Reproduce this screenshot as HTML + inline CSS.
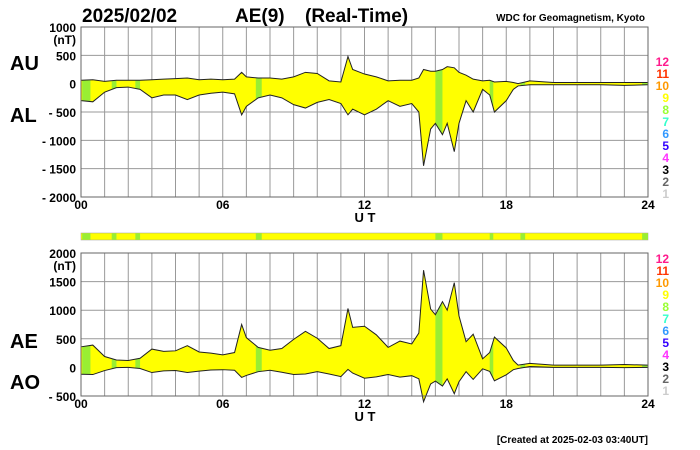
<!DOCTYPE html>
<html><head><meta charset="utf-8">
<style>
body{margin:0;background:#fff;}
svg{display:block;font-family:"Liberation Sans",sans-serif;}
</style></head>
<body>
<svg id="c" width="700" height="450" viewBox="0 0 700 450">
<text x="82" y="22" font-size="19" font-weight="bold">2025/02/02</text>
<text x="235" y="22" font-size="19" font-weight="bold">AE(9)</text>
<text x="305" y="22" font-size="19" font-weight="bold">(Real-Time)</text>
<text x="645" y="21" font-size="10" font-weight="bold" text-anchor="end">WDC for Geomagnetism, Kyoto</text>
<text x="10" y="70" font-size="20" font-weight="bold">AU</text>
<text x="10" y="122" font-size="20" font-weight="bold">AL</text>
<text x="10" y="348" font-size="20" font-weight="bold">AE</text>
<text x="10" y="389" font-size="20" font-weight="bold">AO</text>
<text x="648" y="443" font-size="10" font-weight="bold" text-anchor="end">[Created at 2025-02-03 03:40UT]</text>
<g id="g"></g>
</svg>
<script>
const hours = [0,0.5,1,1.5,2,2.5,3,3.5,4,4.5,5,5.5,6,6.5,6.8,7,7.5,8,8.5,9,9.5,10,10.5,11,11.3,11.5,12,12.5,13,13.5,14,14.3,14.5,14.8,15,15.3,15.5,15.8,16,16.3,16.6,17,17.3,17.5,18,18.3,18.5,19,20,21,22,23,24];
const auValues = [60,70,40,60,60,60,70,80,90,100,70,80,70,80,200,120,100,100,80,120,200,180,50,30,480,250,170,120,50,60,60,100,250,220,220,250,300,280,200,150,80,50,60,30,40,20,0,50,20,20,20,20,20];
const alValues = [-300,-320,-150,-70,-60,-100,-250,-200,-200,-280,-200,-170,-150,-180,-550,-400,-250,-200,-250,-370,-430,-330,-280,-350,-550,-450,-550,-450,-300,-400,-350,-500,-1450,-800,-700,-900,-700,-1200,-700,-300,-500,-100,-200,-500,-300,-100,-40,-20,-20,-20,-20,-30,-20];
const greenStart = [0.05,1.3,2.3,7.4,15.0,17.3,18.6,23.75];
const greenEnd = [0.4,1.5,2.5,7.65,15.3,17.45,18.8,24];
const topTicks = [1000,500,0,-500,-1000,-1500,-2000];
const botTicks = [2000,1500,1000,500,0,-500];
const xTicks = ["00","06","12","18","24"];
const legendNums = ["12","11","10","9","8","7","6","5","4","3","2","1"];
const legendCols = ["#ff1a8c","#ff3300","#ff9900","#ffff00","#99ff33","#33ffcc","#3399ff","#3300ff","#ff33ff","#000","#666","#ccc"];

const NS="http://www.w3.org/2000/svg";
const g=document.getElementById('g');
function mk(t,a,p){const e=document.createElementNS(NS,t);for(const k in a)e.setAttribute(k,a[k]);(p||g).appendChild(e);return e;}
const X0=81,X1=648;
const x=h=>X0+(X1-X0)*h/24;
function yScale(top,bot,vmax,vmin){return v=>top+(vmax-v)*(bot-top)/(vmax-vmin);}
const yTop=yScale(27,197,1000,-2000);
const yBot=yScale(253,396,2000,-500);
const aeValues=auValues.map((u,i)=>u-alValues[i]);
const aoValues=auValues.map((u,i)=>(u+alValues[i])/2);

function panel(id,ys,top,bot,ticks,upper,lower,legendTop){
  for(let h=0;h<=24;h++){
    const l=mk('line',{x1:x(h),x2:x(h),y1:top,y2:bot,stroke:'#999','stroke-width':1});
    
    
  }
  ticks.forEach(v=>{
    const l=mk('line',{x1:X0,x2:X1,y1:ys(v),y2:ys(v),stroke:'#999','stroke-width':1});
    
    
    const t=mk('text',{x:76,y:ys(v)+5,'font-size':12,'font-weight':'bold','text-anchor':'end'});
    t.textContent=(v<0?'- '+(-v):String(v));
    
    
  });
  const nt=mk('text',{x:76,y:ys(ticks[0])+17,'font-size':12,'font-weight':'bold','text-anchor':'end'});
  nt.textContent='(nT)';
  
  
  let d='M'+hours.map((h,i)=>x(h)+','+ys(upper[i])).join('L');
  for(let i=hours.length-1;i>=0;i--) d+='L'+x(hours[i])+','+ys(lower[i]);
  d+='Z';
  const cp=mk('clipPath',{id:'cp'+id});
  mk('path',{d:d},cp);
  const a=mk('path',{d:d,fill:'#ffff00',stroke:'none'});
  
  
  greenStart.forEach((s,i)=>{
    const r=mk('rect',{x:x(s),y:top,width:x(greenEnd[i])-x(s),height:bot-top,fill:'#99ee33','clip-path':'url(#cp'+id+')'});
    
    
  });
  const up=mk('polyline',{points:hours.map((h,i)=>x(h)+','+ys(upper[i])).join(' '),fill:'none',stroke:'#222','stroke-width':1});
  
  
  const lo=mk('polyline',{points:hours.map((h,i)=>x(h)+','+ys(lower[i])).join(' '),fill:'none',stroke:'#222','stroke-width':1});
  
  
  const f=mk('rect',{x:X0,y:top,width:X1-X0,height:bot-top,fill:'none',stroke:'#666','stroke-width':1});
  
  
  xTicks.forEach((s,i)=>{
    const t=mk('text',{x:x(i*6),y:bot+12,'font-size':12,'font-weight':'bold','text-anchor':'middle'});
    t.textContent=s;
    
    
  });
  const ut=mk('text',{x:365,y:bot+25,'font-size':13,'font-weight':'bold','text-anchor':'middle'});
  ut.textContent='U T';
  
  
  legendNums.forEach((n,i)=>{
    const t=mk('text',{x:669,y:legendTop+i*12,'font-size':12,'font-weight':'bold','text-anchor':'end',fill:legendCols[i]});
    t.textContent=n;
    
    
  });
}
panel('t',yTop,27,197,topTicks,auValues,alValues,66);
panel('b',yBot,253,396,botTicks,aeValues,aoValues,263);

const strip=mk('rect',{x:X0,y:233,width:X1-X0,height:7,fill:'#ffff00',stroke:'#999','stroke-width':0.5});


greenStart.forEach((s,i)=>{
  const r=mk('rect',{x:x(s),y:233.3,width:x(greenEnd[i])-x(s),height:6.4,fill:'#99ee33'});
  
  
});
</script>
</body></html>
